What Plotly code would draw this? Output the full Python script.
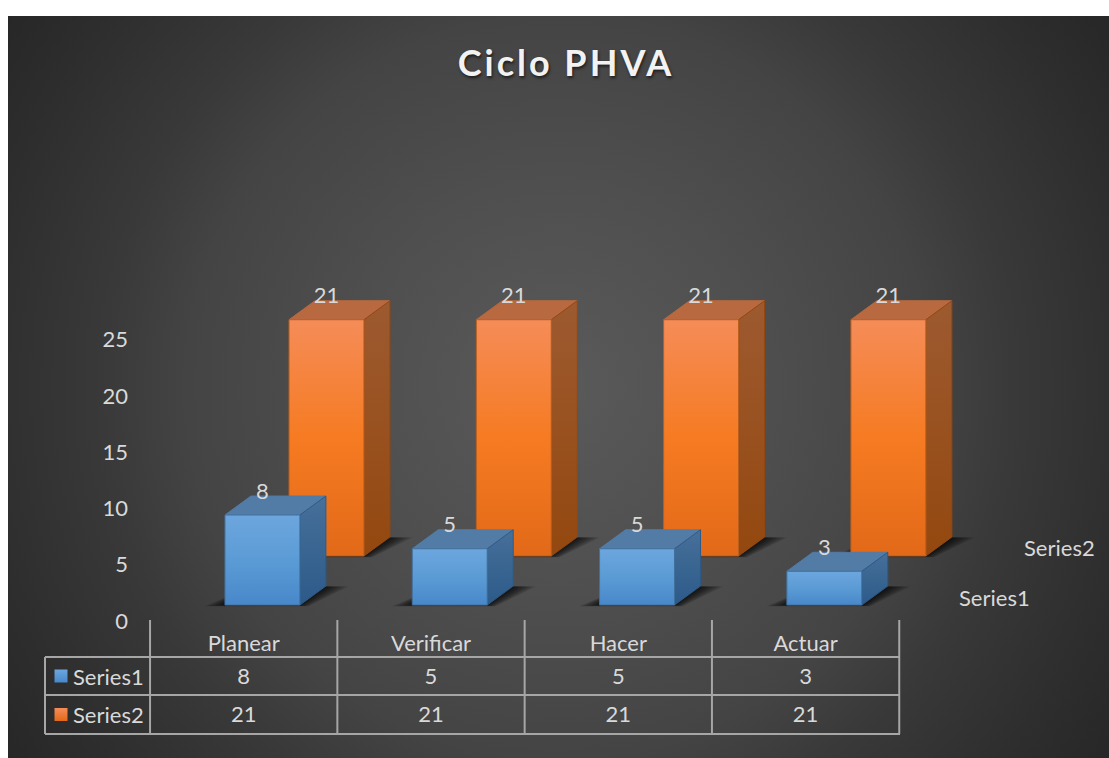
import urllib.parse

import plotly.graph_objects as go

categories = ['Planear', 'Verificar', 'Hacer', 'Actuar']
series_names = ['Series1', 'Series2']
series1_values = [8, 5, 5, 3]
series2_values = [21, 21, 21, 21]
y_ticks = [0, 5, 10, 15, 20, 25]

# Page layout, in pixels: body margin is removed below so the figure fills the window
FIG_W, FIG_H = 1109, 758
PX_CAT, PX_UNIT = 187.3, 11.25
ZERO_X, ZERO_Y = 243.7, 621

FONT = 'Lato, Carlito, Calibri, sans-serif'
FONT_SIZE = 22
TEXT = '#d9d9d9'
GRID = '#a6a6a6'

STYLES = {
    'Series1': {
        'front': ['#4888ca', '#5b9bd5', '#6da6de'], 'top': '#527ba6',
        'side': ['#2c5a89', '#47709a'], 'edge': '#41719c',
        'offset': 0.1, 'floor': 1.42,
    },
    'Series2': {
        'front': ['#e26918', '#f67b22', '#f58c58'], 'top': '#b8693f',
        'side': ['#94480f', '#9d5a30'], 'edge': '#b85f20',
        'offset': 0.442, 'floor': 5.78,
    },
}
BAR_W = 0.4
DEPTH_X, DEPTH_Y = 26 / PX_CAT, 19 / PX_UNIT


def page_x(px):
    return px / FIG_W


def page_y(py):
    return 1 - py / FIG_H


def face(fig, xs, ys, colors, edge):
    if isinstance(colors, str):
        colors = [colors, colors]
    steps = [[i / (len(colors) - 1), c] for i, c in enumerate(colors)]
    fig.add_trace(go.Scatter(
        x=xs + xs[:1], y=ys + ys[:1], mode='lines', fill='toself',
        line={'color': edge, 'width': 1},
        fillgradient={'type': 'vertical', 'colorscale': steps},
        hoverinfo='skip', showlegend=False,
    ))


def shadow(fig, x0, x1, floor):
    # stacked see-through polygons stand in for the blurred drop shadow
    for grow in [0.11, 0.096, 0.082, 0.068, 0.054, 0.04, 0.028, 0.016]:
        drop = grow * 24 / PX_UNIT
        xs = [x0 - grow, x1 + grow * 0.4, x1 + DEPTH_X + grow * 1.1, x0 + DEPTH_X]
        ys = [floor - drop * 0.5, floor - drop * 0.5, floor + DEPTH_Y * 0.97, floor + DEPTH_Y * 0.97]
        fig.add_trace(go.Scatter(
            x=xs + xs[:1], y=ys + ys[:1], mode='lines', fill='toself',
            line={'width': 0}, fillcolor='rgba(0,0,0,0.12)',
            hoverinfo='skip', showlegend=False,
        ))


def add_bars(fig, name, values):
    st = STYLES[name]
    for i, v in enumerate(values):
        x0 = i + st['offset'] - BAR_W / 2
        x1 = x0 + BAR_W
        lo, hi = st['floor'], st['floor'] + v
        shadow(fig, x0, x1, lo)
        face(fig, [x0, x0 + DEPTH_X, x1 + DEPTH_X, x1],
             [hi, hi + DEPTH_Y, hi + DEPTH_Y, hi], st['top'], st['top'])
        face(fig, [x1, x1 + DEPTH_X, x1 + DEPTH_X, x1],
             [lo, lo + DEPTH_Y, hi + DEPTH_Y, hi], st['side'], st['side'][0])
        face(fig, [x0, x1, x1, x0], [lo, lo, hi, hi], st['front'], st['edge'])


def add_labels(fig, name, values):
    st = STYLES[name]
    fig.add_trace(go.Scatter(
        x=[i + st['offset'] for i in range(len(values))],
        y=[st['floor'] + v + 22 / PX_UNIT for v in values],
        text=[str(v) for v in values], mode='text',
        textfont={'family': FONT, 'size': FONT_SIZE, 'color': TEXT},
        hoverinfo='skip', showlegend=False,
    ))


background = (
    '<svg xmlns="http://www.w3.org/2000/svg" viewBox="0 0 1101 742" width="1101" height="742">'
    '<defs><radialGradient id="g" gradientUnits="userSpaceOnUse" cx="550" cy="371" r="663">'
    '<stop offset="0" stop-color="#5a5a5a"/><stop offset="0.306" stop-color="#4f4f4f"/>'
    '<stop offset="0.56" stop-color="#444444"/><stop offset="0.688" stop-color="#393939"/>'
    '<stop offset="0.87" stop-color="#2e2e2e"/><stop offset="1" stop-color="#272727"/>'
    '</radialGradient></defs>'
    '<rect width="1101" height="742" fill="url(#g)"/></svg>'
)

fig = go.Figure()

add_bars(fig, 'Series2', series2_values)
add_bars(fig, 'Series1', series1_values)
add_labels(fig, 'Series2', series2_values)
add_labels(fig, 'Series1', series1_values)

# Data table under the bars
row_lines = [657, 695, 734]
shapes = []
for py in row_lines:
    shapes.append(dict(type='line', xref='paper', yref='paper', x0=page_x(45), x1=page_x(900),
                       y0=page_y(py), y1=page_y(py), line={'color': GRID, 'width': 2}))
shapes.append(dict(type='line', xref='paper', yref='paper', x0=page_x(45), x1=page_x(45),
                   y0=page_y(657), y1=page_y(734), line={'color': GRID, 'width': 2}))
for i in range(len(categories) + 1):
    shapes.append(dict(type='line', xref='x', yref='paper', x0=i - 0.5, x1=i - 0.5,
                       y0=page_y(620), y1=page_y(734), line={'color': GRID, 'width': 2}))

rows = [(678, series1_values), (716.5, series2_values)]
for (py, values) in rows:
    fig.add_trace(go.Scatter(
        x=list(range(len(values))), y=[(ZERO_Y - py) / PX_UNIT] * len(values),
        text=[str(v) for v in values], mode='text',
        textfont={'family': FONT, 'size': FONT_SIZE, 'color': TEXT},
        hoverinfo='skip', showlegend=False,
    ))

annotations = []
for name, (py, _), in zip(series_names, rows):
    st = STYLES[name]
    fig.add_trace(go.Scatter(
        x=[(61 - ZERO_X) / PX_CAT], y=[(ZERO_Y - (py - 2)) / PX_UNIT], mode='markers',
        marker={'symbol': 'square', 'size': 13, 'color': st['front'][2], 'line': {'width': 0},
                'gradient': {'type': 'vertical', 'color': st['front'][0]}},
        hoverinfo='skip', showlegend=False,
    ))
    annotations.append(dict(xref='paper', yref='paper', x=page_x(108), y=page_y(py - 2), text=name,
                            showarrow=False, xanchor='center', yanchor='middle',
                            font={'family': FONT, 'size': FONT_SIZE, 'color': TEXT}))

# Depth axis labels on the right
for name, px, py in [('Series1', 995, 597), ('Series2', 1059, 547)]:
    annotations.append(dict(xref='paper', yref='paper', x=page_x(px), y=page_y(py), text=name,
                            showarrow=False, xanchor='center', yanchor='middle',
                            font={'family': FONT, 'size': FONT_SIZE, 'color': TEXT}))

fig.update_layout(
    width=FIG_W,
    height=FIG_H,
    margin={'l': 0, 'r': 0, 't': 0, 'b': 0},
    paper_bgcolor='white',
    plot_bgcolor='rgba(0,0,0,0)',
    showlegend=False,
    title={
        'text': '<span style="letter-spacing:3px"><b>Ciclo PHVA</b></span>',
        'x': page_x(566), 'xanchor': 'center',
        'y': page_y(63), 'yanchor': 'middle',
        'font': {'family': FONT, 'size': 36, 'color': '#f2f2f2',
                 'shadow': '1px 2px 3px rgba(0,0,0,0.6)'},
    },
    xaxis={
        'range': [-ZERO_X / PX_CAT, (FIG_W - ZERO_X) / PX_CAT],
        'anchor': 'free', 'position': page_y(628),
        'tickmode': 'array', 'tickvals': list(range(len(categories))), 'ticktext': categories,
        'tickfont': {'family': FONT, 'size': FONT_SIZE, 'color': TEXT},
        'ticks': '', 'showgrid': False, 'zeroline': False, 'showline': False, 'fixedrange': True,
    },
    yaxis={
        'range': [(ZERO_Y - FIG_H) / PX_UNIT, ZERO_Y / PX_UNIT],
        'anchor': 'free', 'position': page_x(128),
        'tickmode': 'array', 'tickvals': y_ticks,
        'tickfont': {'family': FONT, 'size': FONT_SIZE, 'color': TEXT},
        'ticks': '', 'showgrid': False, 'zeroline': False, 'showline': False, 'fixedrange': True,
    },
    shapes=shapes,
    annotations=annotations,
    images=[dict(
        source='data:image/svg+xml;charset=utf-8,' + urllib.parse.quote(background),
        xref='paper', yref='paper', x=page_x(8), y=page_y(16), sizex=1101 / FIG_W, sizey=742 / FIG_H,
        xanchor='left', yanchor='top', sizing='stretch', layer='below',
    )],
)

fig.write_html("out.html", config={'displayModeBar': False},
               post_script="document.body.style.margin = '0';")
